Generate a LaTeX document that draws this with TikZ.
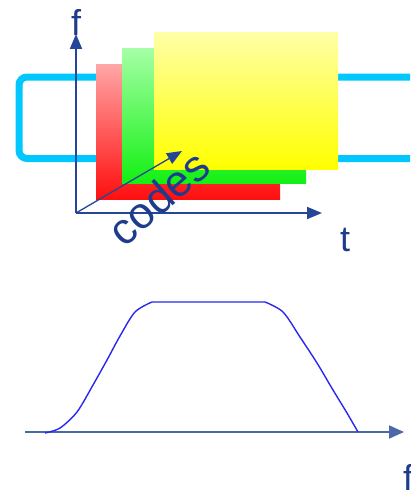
\documentclass[tikz,border=0pt]{standalone}
\usepackage{fontspec}
\setmainfont{Liberation Sans}
\usetikzlibrary{arrows.meta}
\definecolor{cyanline}{RGB}{0,200,255}
\definecolor{axisblue}{RGB}{35,70,150}
\definecolor{labelblue}{RGB}{30,60,140}
\definecolor{baseaxis}{RGB}{75,105,170}
\definecolor{curveblue}{RGB}{40,40,240}
\definecolor{redtop}{RGB}{255,165,165}
\definecolor{redbot}{RGB}{255,15,15}
\definecolor{greentop}{RGB}{165,255,165}
\definecolor{greenbot}{RGB}{20,240,20}
\definecolor{yellowtop}{RGB}{255,255,165}
\definecolor{yellowbot}{RGB}{255,255,0}
\tikzset{
  axisline/.style={draw=axisblue, line width=1.8pt, -{Triangle[length=15pt,width=12pt]}},
  codesline/.style={draw=axisblue, line width=1.3pt, -{Triangle[length=15pt,width=12pt]}},
  baseline/.style={draw=baseaxis, line width=1.8pt, -{Triangle[length=15pt,width=13pt]}},
  axislabel/.style={text=labelblue, inner sep=0pt, font=\fontsize{36}{40}\selectfont},
  codeslabel/.style={text=labelblue, inner sep=0pt, font=\fontsize{44}{48}\selectfont, rotate=41},
  spectrum/.style={draw=curveblue, line width=1.4pt}
}
\begin{document}
\begin{tikzpicture}[x=1pt,y=-1pt]
\useasboundingbox (0,0) rectangle (410,495);
\clip (0,0) rectangle (410,495);
% cyan loop
\draw[cyanline, line width=7pt, rounded corners=8pt] (420,77) -- (19,77) -- (19,158.5) -- (420,158.5);
% code planes
\shade[top color=redtop, bottom color=redbot] (96,65) rectangle (280,199);
\shade[top color=greentop, bottom color=greenbot] (122,49) rectangle (306,183);
\shade[top color=yellowtop, bottom color=yellowbot] (154,33) rectangle (338,169);
% axes
\coordinate (O) at (76,213);
\coordinate (fend) at (76,34);
\coordinate (tend) at (322,213);
\coordinate (cend) at (182,151);
\draw[axisline] (O) -- (fend);
\draw[axisline] (O) -- (tend);
\draw[codesline] (O) -- (cend);
\node[axislabel] (flab) at (76,22) {f};
\node[axislabel] (tlab) at (345,240) {t};
\node[codeslabel] (clab) at (158,198) {codes};
% bottom spectrum
\coordinate (bstart) at (25,432);
\coordinate (bend) at (404,432);
\draw[baseline] (bstart) -- (bend);
\draw[spectrum] plot[smooth, tension=0.5] coordinates {(45,433) (60,428) (77,412) (93,385) (107,360) (120,336) (135,312) (152,302)}
  -- plot[smooth, tension=0.5] coordinates {(265,302) (283,312) (300,337) (317,363) (333,390) (347,413) (358,432)};
\node[axislabel, anchor=base west] (flab2) at (403,490) {f};
\end{tikzpicture}
\end{document}
